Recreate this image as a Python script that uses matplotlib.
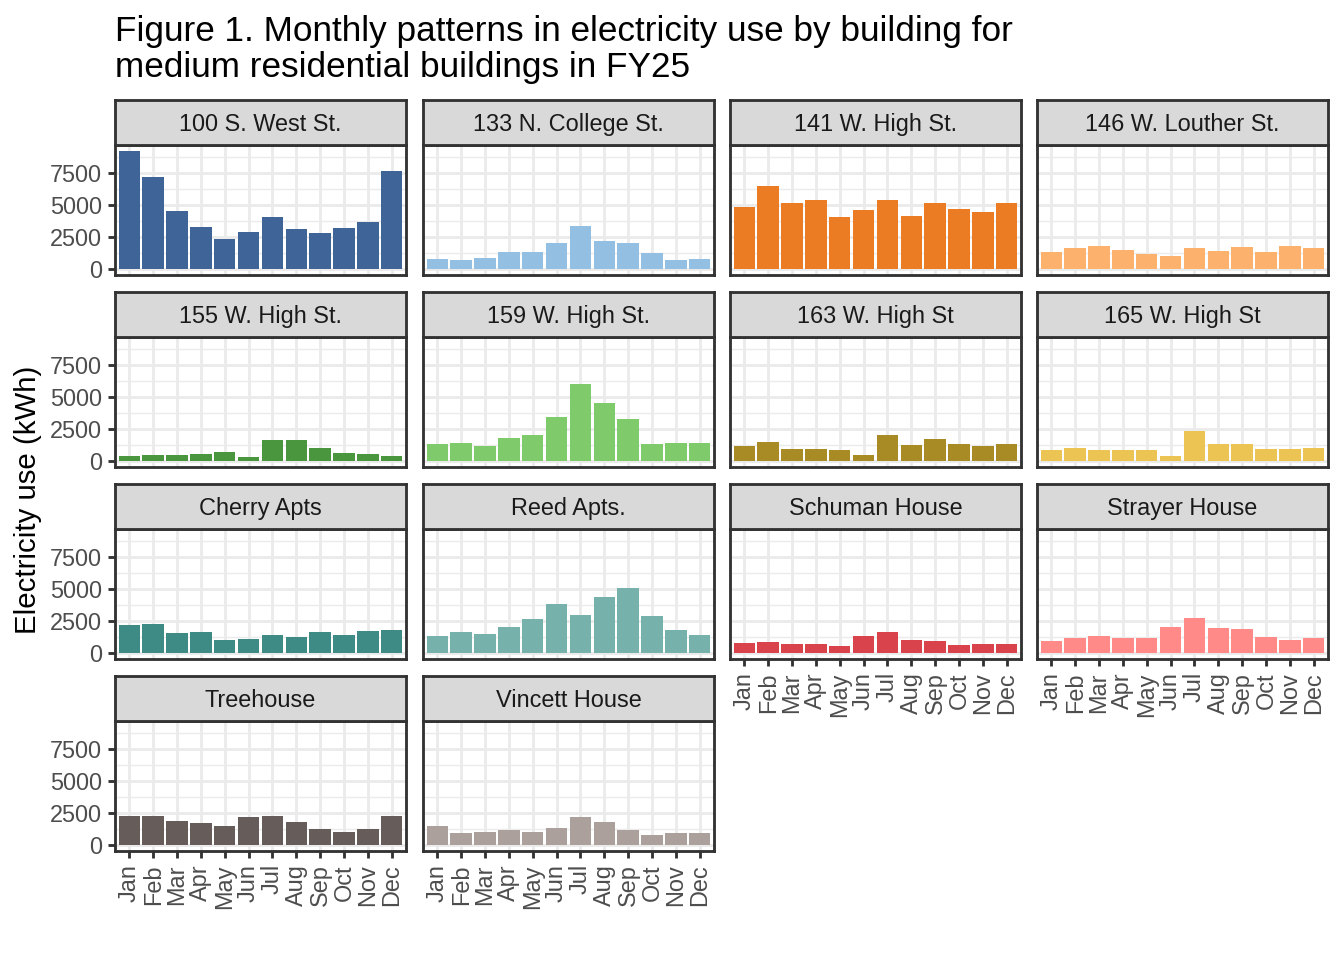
import matplotlib
matplotlib.use("Agg")
import matplotlib.pyplot as plt

plt.rcParams['font.family'] = ['Liberation Sans', 'DejaVu Sans']

months = ["Jan", "Feb", "Mar", "Apr", "May", "Jun",
          "Jul", "Aug", "Sep", "Oct", "Nov", "Dec"]

buildings = ["100 S. West St.", "133 N. College St.", "141 W. High St.", "146 W. Louther St.",
             "155 W. High St.", "159 W. High St.", "163 W. High St", "165 W. High St",
             "Cherry Apts", "Reed Apts.", "Schuman House", "Strayer House",
             "Treehouse", "Vincett House"]

colors = ["#3F6598", "#93BFE3", "#EC7C24", "#FCB16C",
          "#4A963F", "#7FCB6B", "#A98B26", "#ECC453",
          "#3E8A84", "#77B1AB", "#D9434B", "#FF8A88",
          "#665D5B", "#ABA09C"]

# monthly kWh
west_100 = [9250, 7240, 4570, 3260, 2350, 2880, 4100, 3110, 2800, 3190, 3720, 7700]
college_133 = [820, 690, 840, 1350, 1300, 2020, 3340, 2190, 2040, 1280, 710, 820]
high_141 = [4870, 6480, 5180, 5400, 4110, 4640, 5400, 4180, 5180, 4720, 4490, 5180]
louther_146 = [1350, 1660, 1840, 1480, 1200, 1050, 1660, 1430, 1730, 1300, 1790, 1660]
high_155 = [390, 470, 490, 570, 730, 340, 1660, 1660, 990, 600, 570, 420]
high_159 = [1300, 1450, 1170, 1820, 2050, 3450, 6050, 4570, 3320, 1320, 1430, 1430]
high_163 = [1220, 1510, 910, 940, 880, 440, 2080, 1270, 1690, 1350, 1220, 1350]
high_165 = [880, 990, 860, 830, 830, 420, 2340, 1320, 1350, 910, 960, 1040]
cherry = [2220, 2290, 1570, 1650, 1030, 1080, 1390, 1260, 1680, 1440, 1730, 1830]
reed = [1370, 1680, 1520, 2040, 2630, 3810, 2990, 4380, 5080, 2910, 1780, 1440]
schuman = [800, 900, 750, 720, 590, 1340, 1620, 1030, 950, 620, 700, 720]
strayer = [930, 1190, 1310, 1190, 1160, 2060, 2760, 1960, 1880, 1260, 1060, 1210]
treehouse = [2310, 2240, 1850, 1700, 1470, 2160, 2260, 1830, 1230, 1000, 1290, 2310]
vincett = [1470, 980, 1000, 1160, 1000, 1340, 2160, 1830, 1180, 770, 980, 950]

values = [west_100, college_133, high_141, louther_146,
          high_155, high_159, high_163, high_165,
          cherry, reed, schuman, strayer,
          treehouse, vincett]

W, H = 1344, 960
fig = plt.figure(figsize=(7, 5), dpi=192)


def px_box(x0, y0, x1, y1):
    return [x0 / W, 1 - y1 / H, (x1 - x0) / W, (y1 - y0) / H]


col_left = [115, 423, 730, 1037]
panel_w = 291
ymax = max(max(v) for v in values)
border = "#333333"
lw = 1.07

for i, (name, vals, c) in enumerate(zip(buildings, values, colors)):
    r, k = divmod(i, 4)
    x0 = col_left[k]
    top = 100 + 192 * r

    ax = fig.add_axes(px_box(x0, top + 45, x0 + panel_w, top + 175))
    ax.bar(range(12), vals, width=0.9, color=c, zorder=2)
    ax.set_xlim(-0.6, 11.6)
    ax.set_ylim(-0.05 * ymax, 1.05 * ymax)
    ax.set_xticks(range(12))
    ax.set_xticklabels(months, rotation=90)
    ax.set_yticks([0, 2500, 5000, 7500])
    ax.set_yticks([1250, 3750, 6250, 8750], minor=True)
    ax.set_axisbelow(True)
    ax.grid(which="major", color="#EBEBEB", linewidth=lw)
    ax.grid(which="minor", axis="y", color="#EBEBEB", linewidth=lw / 2)
    ax.tick_params(which="major", length=2.75, width=lw, color=border,
                   labelcolor="#4D4D4D", labelsize=8.8, pad=2.2)
    ax.tick_params(which="minor", length=0)
    for s in ax.spines.values():
        s.set_color(border)
        s.set_linewidth(lw)

    bottom_row = (i + 4) >= len(buildings)
    if not bottom_row:
        ax.tick_params(axis="x", bottom=False, labelbottom=False)
    if k != 0:
        ax.tick_params(axis="y", left=False, labelleft=False)

    sx = fig.add_axes(px_box(x0, top, x0 + panel_w, top + 45))
    sx.set_facecolor("#D9D9D9")
    sx.set_xticks([])
    sx.set_yticks([])
    for s in sx.spines.values():
        s.set_color(border)
        s.set_linewidth(lw)
    sx.text(0.5, 0.46, name, ha="center", va="center", fontsize=8.8,
            color="#1A1A1A", transform=sx.transAxes)

fig.text(115 / W, 1 - 77 / H,
         "Figure 1. Monthly patterns in electricity use by building for\n"
         "medium residential buildings in FY25",
         ha="left", va="baseline", fontsize=13.2, color="black", linespacing=1.1)

fig.text(28 / W, 1 - 500 / H, "Electricity use (kWh)", rotation=90,
         ha="center", va="center", fontsize=11, color="black")

fig.savefig("out.png", dpi=192)
